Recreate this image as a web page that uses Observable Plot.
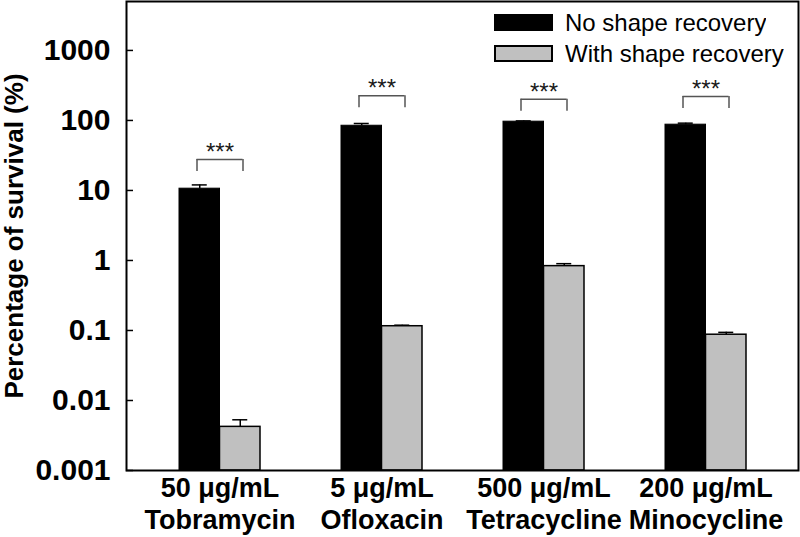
<!DOCTYPE html>
<html>
<head>
<meta charset="utf-8">
<script src="https://cdn.jsdelivr.net/npm/d3@7"></script>
<script src="https://cdn.jsdelivr.net/npm/@observablehq/plot@0.6"></script>
<style>
  html, body { margin: 0; padding: 0; background: #fff; }
  #wrap { position: relative; width: 800px; height: 537px; }
  #legend { position: absolute; left: 495px; top: 7px; }
  #legend > div { margin: 0 !important; font-size: 24px !important; font-family: "Liberation Sans", Arial, sans-serif !important; color: #000; }
  #legend > div > div { height: 31px !important; padding: 0 !important; margin: 0 !important; display: flex !important; align-items: center !important; }
  #legend svg { margin-right: 13px !important; overflow: visible; }
  #legend svg rect { stroke: #000; stroke-width: 2px; }
</style>
</head>
<body>
<div id="wrap"><div id="chart"></div><div id="legend"></div></div>
<script>
// ---- data ----
const categories = ["Tobramycin", "Ofloxacin", "Tetracycline", "Minocycline"];
const doses = ["50 μg/mL", "5 μg/mL", "500 μg/mL", "200 μg/mL"];
const seriesNames = ["No shape recovery", "With shape recovery"];
const seriesColors = ["#000000", "#c0c0c0"];
const noRecovery = [10.6, 84, 96, 87];
const noRecoveryErr = [1.4, 6.5, 2.5, 4.5];
const withRecovery = [0.0042, 0.115, 0.83, 0.087];
const withRecoveryErr = [0.0011, 0.004, 0.07, 0.007];
const sigLevel = [27.7, 225, 201, 220];
const sigLabels = ["***", "***", "***", "***"];
const yTicks = [0.001, 0.01, 0.1, 1, 10, 100, 1000];
const yTickLabels = ["0.001", "0.01", "0.1", "1", "10", "100", "1000"];
const yMin = 0.001, yMax = 5000;

// ---- tables built from arrays ----
const black = categories.map((c, i) => ({cat: c, v: noRecovery[i], e: noRecoveryErr[i]}));
const gray = categories.map((c, i) => ({cat: c, v: withRecovery[i], e: withRecoveryErr[i]}));
const sig = categories.map((c, i) => ({cat: c, y: sigLevel[i], label: sigLabels[i]}));
const yTickTable = yTicks.map((v, i) => ({v, label: yTickLabels[i]}));
const tickDrop = Math.pow(10, 12 / 70);

const font = "Liberation Sans, Arial, sans-serif";
const half = 40.5, off = 20.25;

const chart = Plot.plot({
  width: 800,
  height: 537,
  marginLeft: 126,
  marginRight: 2,
  marginTop: 1,
  marginBottom: 67,
  style: {fontFamily: font, background: "#fff", color: "#000"},
  x: {type: "band", domain: categories, paddingInner: 0.503, paddingOuter: 0.313, align: 0.5, axis: null},
  y: {type: "log", domain: [yMin, yMax], axis: null},
  marks: [
    // bars
    Plot.barY(black, {x: "cat", y1: () => yMin, y2: "v", fill: seriesColors[0], stroke: "#000", strokeWidth: 1, insetRight: half}),
    Plot.barY(gray, {x: "cat", y1: () => yMin, y2: "v", fill: seriesColors[1], stroke: "#000", strokeWidth: 1.5, insetLeft: half}),
    // error bars (upper)
    Plot.ruleX(black, {x: "cat", y1: "v", y2: d => d.v + d.e, dx: -off, stroke: "#000", strokeWidth: 1.5}),
    Plot.tickY(black, {x: "cat", y: d => d.v + d.e, dx: -off, inset: 33, stroke: "#000", strokeWidth: 1.5}),
    Plot.ruleX(gray, {x: "cat", y1: "v", y2: d => d.v + d.e, dx: off, stroke: "#000", strokeWidth: 1.5}),
    Plot.tickY(gray, {x: "cat", y: d => d.v + d.e, dx: off, inset: 33, stroke: "#000", strokeWidth: 1.5}),
    // significance brackets
    Plot.tickY(sig, {x: "cat", y: "y", inset: 17.5, stroke: "#555", strokeWidth: 1.5}),
    Plot.ruleX(sig, {x: "cat", y1: "y", y2: d => d.y / tickDrop, dx: -23, stroke: "#555", strokeWidth: 1.5}),
    Plot.ruleX(sig, {x: "cat", y1: "y", y2: d => d.y / tickDrop, dx: 23, stroke: "#555", strokeWidth: 1.5}),
    Plot.text(sig, {x: "cat", y: "y", text: "label", dy: -7, fontSize: 24, fill: "#1a1a1a"}),
    // y axis: inward ticks, tick labels, title
    Plot.tickY(yTicks, {y: d => d, insetRight: 665, stroke: "#000", strokeWidth: 1.5}),
    Plot.text(yTickTable, {y: "v", text: "label", frameAnchor: "left", textAnchor: "end", dx: -16, fontSize: 30, fontWeight: "bold", fill: "#000"}),
    Plot.axisY({
      ticks: [], tickSize: 0,
      fontSize: 26, fontWeight: "bold",
      label: "Percentage of survival (%)", labelAnchor: "center", labelOffset: 122, labelArrow: "none"
    }),
    // x axis
    Plot.axisX({
      tickSize: 0, tickPadding: 4,
      tickFormat: d => doses[categories.indexOf(d)] + "\n" + d,
      fontSize: 27, fontWeight: "bold", lineHeight: 1.19, label: null
    }),
    Plot.frame({stroke: "#000", strokeWidth: 2})
  ]
});
document.getElementById("chart").appendChild(chart);

const legend = Plot.legend({
  color: {type: "ordinal", domain: seriesNames, range: seriesColors},
  columns: 1,
  swatchWidth: 57,
  swatchHeight: 15
});
document.getElementById("legend").appendChild(legend);
</script>
</body>
</html>
